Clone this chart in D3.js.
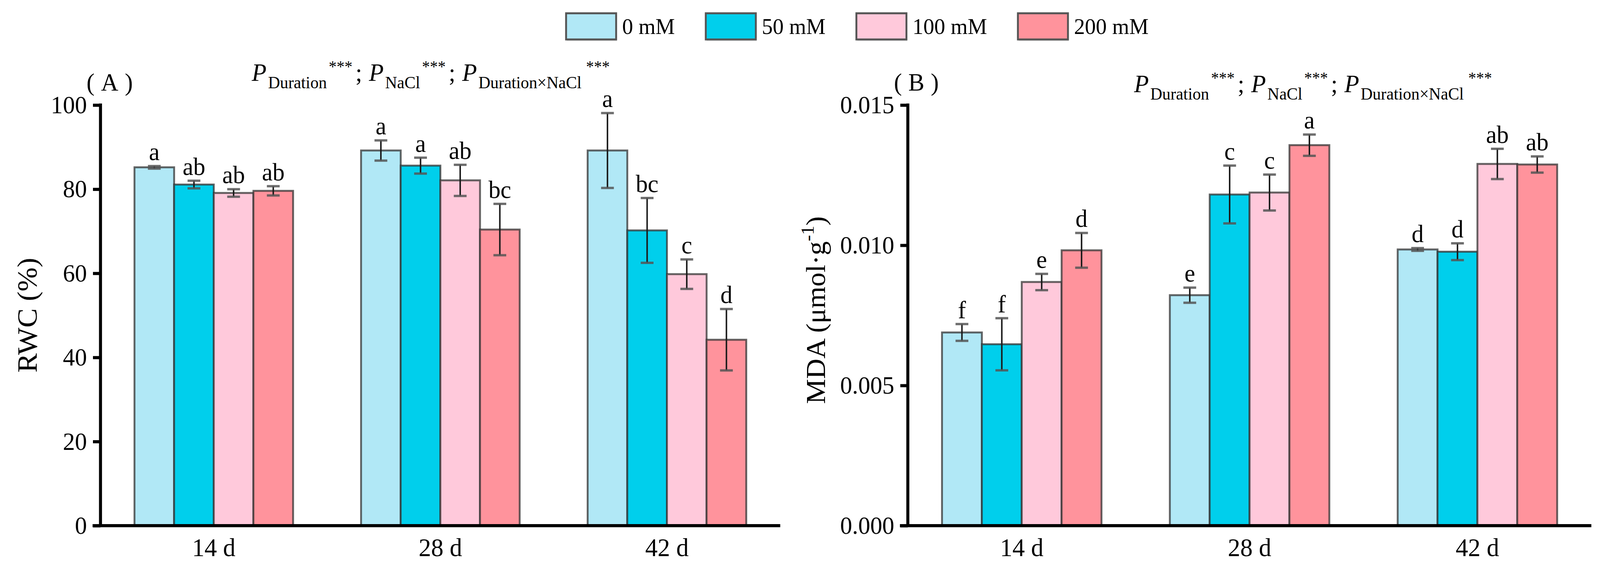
<!DOCTYPE html>
<html>
<head>
<meta charset="utf-8">
<script src="https://cdn.jsdelivr.net/npm/d3@7"></script>
<style>
  html, body { margin: 0; padding: 0; background: #fff; overflow: hidden; }
  #chart { display: block; width: 100vw; height: 100vh; }
  svg text { font-family: "Liberation Serif", "Times New Roman", serif; fill: #000; }
</style>
</head>
<body>
<svg id="chart" viewBox="0 0 4251 1480" preserveAspectRatio="none"></svg>
<script>
// categories
const durations = ['14 d', '28 d', '42 d'];
const concentrations = ['0 mM', '50 mM', '100 mM', '200 mM'];
const colors = ['#b1e8f6', '#00cfec', '#ffc9db', '#ff939c'];

// RWC (%) - mean and error per duration, order 0/50/100/200 mM
const rwcMean = [
  [85.2, 81.1, 79.1, 79.6],
  [89.2, 85.6, 82.1, 70.4],
  [89.2, 70.2, 59.8, 44.2]
];
const rwcErr = [
  [0.3, 0.9, 0.9, 1.1],
  [2.4, 1.9, 3.7, 6.1],
  [8.9, 7.7, 3.5, 7.3]
];
const rwcLetters = [
  ['a', 'ab', 'ab', 'ab'],
  ['a', 'a', 'ab', 'bc'],
  ['a', 'bc', 'c', 'd']
];
const rwcTicks = [0, 20, 40, 60, 80, 100];

// MDA (umol/g)
const mdaMean = [
  [0.00689, 0.00647, 0.00869, 0.00982],
  [0.00822, 0.01181, 0.01188, 0.01357],
  [0.00985, 0.00977, 0.01290, 0.01288]
];
const mdaErr = [
  [0.00030, 0.00093, 0.00029, 0.00062],
  [0.00027, 0.00103, 0.00064, 0.00038],
  [0.00005, 0.00030, 0.00054, 0.00029]
];
const mdaLetters = [
  ['f', 'f', 'e', 'd'],
  ['e', 'c', 'c', 'a'],
  ['d', 'd', 'ab', 'ab']
];
const mdaTicks = [0, 0.005, 0.010, 0.015];

const svg = d3.select('#chart');
const color = d3.scaleOrdinal().domain(concentrations).range(colors);

function drawPanel(opt) {
  const g = svg.append('g');

  var x = d3.scaleBand().domain(durations)
      .range([opt.left, opt.right]).paddingInner(0.3).paddingOuter(0.15);
  var xs = d3.scaleBand().domain(concentrations).range([0, x.bandwidth()]);
  var y = d3.scaleLinear().domain(opt.domain).range([opt.bottom, opt.top]);

  // bars
  durations.forEach((dur, i) => {
    const grp = g.append('g').attr('transform', 'translate(' + x(dur) + ',0)');
    concentrations.forEach((c, j) => {
      const m = opt.mean[i][j], e = opt.err[i][j];
      const cx = xs(c) + xs.bandwidth() / 2;
      grp.append('rect')
        .attr('x', xs(c))
        .attr('y', y(m))
        .attr('width', xs.bandwidth())
        .attr('height', y(0) - y(m))
        .attr('fill', color(c))
        .attr('stroke', '#333')
        .attr('stroke-opacity', 0.75)
        .attr('stroke-width', 5);

      // error bar
      grp.append('line')
        .attr('x1', cx).attr('x2', cx)
        .attr('y1', y(m - e)).attr('y2', y(m + e))
        .attr('stroke', '#1a1a1a').attr('stroke-width', 4);
      [m - e, m + e].forEach(v => {
        grp.append('line')
          .attr('x1', cx - 17).attr('x2', cx + 17)
          .attr('y1', y(v)).attr('y2', y(v))
          .attr('stroke', '#555').attr('stroke-opacity', 0.85)
          .attr('stroke-width', 6);
      });

      // significance letter
      grp.append('text')
        .attr('x', cx)
        .attr('y', y(m + e) - 15)
        .attr('text-anchor', 'middle')
        .style('font-size', '64px')
        .text(opt.letters[i][j]);
    });
  });

  // y axis
  const yAxis = g.append('g')
    .attr('transform', 'translate(' + opt.left + ',0)')
    .call(d3.axisLeft(y).tickValues(opt.ticks).tickFormat(opt.format).tickSize(20).tickPadding(16));
  yAxis.select('.domain').remove();
  yAxis.selectAll('.tick line').attr('stroke', '#000').attr('stroke-width', 8);
  yAxis.selectAll('.tick text')
    .style('font-size', '64px')
    .style('font-family', '"Liberation Serif", "Times New Roman", serif');
  g.append('line')
    .attr('x1', opt.left).attr('x2', opt.left)
    .attr('y1', y(opt.domain[1]) - 4).attr('y2', y(0))
    .attr('stroke', '#000').attr('stroke-width', 8);

  // x axis
  g.append('line')
    .attr('x1', opt.left - 21).attr('x2', opt.right)
    .attr('y1', y(0)).attr('y2', y(0))
    .attr('stroke', '#000').attr('stroke-width', 8);
  g.selectAll('.xlab')
    .data(durations)
    .enter()
    .append('text')
    .attr('class', 'xlab')
    .attr('x', d => x(d) + x.bandwidth() / 2)
    .attr('y', opt.bottom + 78)
    .attr('text-anchor', 'middle')
    .style('font-size', '66px')
    .text(d => d);

  // panel tag
  g.append('text')
    .attr('x', opt.left - 37)
    .attr('y', 232)
    .style('font-size', '64px')
    .style('letter-spacing', '17px')
    .text(opt.tag);

  // P annotation
  const p = g.append('text')
    .attr('x', opt.pX)
    .attr('y', opt.pY)
    .style('font-size', '64px');
  const terms = ['Duration', 'NaCl', 'Duration\u00d7NaCl'];
  terms.forEach((t, k) => {
    p.append('tspan').attr('dx', k == 0 ? 0 : 18).style('font-style', 'italic').text('P');
    p.append('tspan').attr('dx', 4).attr('dy', 19).style('font-size', '44px').text(t);
    p.append('tspan').attr('dx', k == 2 ? 12 : 5).attr('dy', -41).style('font-size', '42px').text('***');
    if (k < 2) {
      p.append('tspan').attr('dx', 8).attr('dy', 22).text(';');
    }
  });

  // y axis title
  const yt = g.append('text')
    .attr('transform', 'translate(' + opt.yTitleX + ',' + opt.yTitleY + ') rotate(-90)')
    .attr('text-anchor', 'middle')
    .style('font-size', opt.yTitleSize + 'px');
  opt.yTitle(yt);
}

drawPanel({
  left: 267, right: 2073, top: 269, bottom: 1346,
  domain: [0, 100], ticks: rwcTicks, format: d3.format('d'),
  mean: rwcMean, err: rwcErr, letters: rwcLetters,
  tag: '(A)', pX: 669, pY: 207,
  yTitleX: 98, yTitleY: 807, yTitleSize: 74,
  yTitle: t => t.text('RWC (%)')
});

drawPanel({
  left: 2412, right: 4228, top: 269, bottom: 1346,
  domain: [0, 0.015], ticks: mdaTicks, format: d3.format('.3f'),
  mean: mdaMean, err: mdaErr, letters: mdaLetters,
  tag: '(B)', pX: 3013, pY: 236,
  yTitleX: 2192, yTitleY: 794, yTitleSize: 72,
  yTitle: t => {
    t.append('tspan').text('MDA (\u03bcmol\u00b7g');
    t.append('tspan').attr('dy', -30).style('font-size', '48px').text('-1');
    t.append('tspan').attr('dy', 30).text(')');
  }
});

// legend - laid out left to right
var lx = 1504;
concentrations.forEach((c, j) => {
  svg.append('rect')
    .attr('x', lx + 2).attr('y', 38)
    .attr('width', 133).attr('height', 67)
    .attr('fill', '#ddd');
  svg.append('rect')
    .attr('x', lx).attr('y', 34)
    .attr('width', 133).attr('height', 67)
    .attr('fill', color(c))
    .attr('stroke', '#555').attr('stroke-width', 5);
  const t = svg.append('text')
    .attr('x', lx + 149).attr('y', 87)
    .style('font-size', '58px')
    .text(c);
  lx += 149 + t.node().getComputedTextLength() + 82;
});
</script>
</body>
</html>
